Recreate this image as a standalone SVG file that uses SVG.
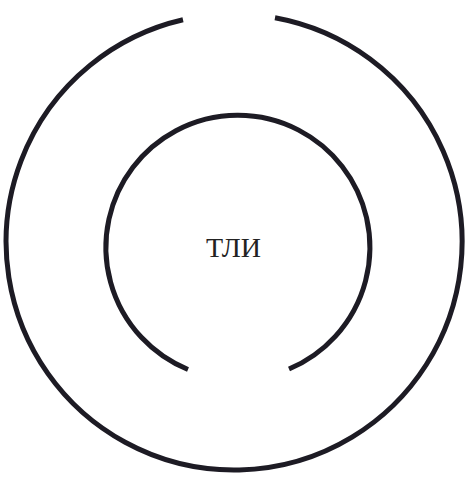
<svg xmlns="http://www.w3.org/2000/svg" width="467" height="478" viewBox="0 0 467 478">
<style>
.ring{fill:none;stroke:#1d1b24;stroke-width:5;stroke-linecap:butt}
.lbl{font-family:"Liberation Serif","Times New Roman",serif;font-size:28px;fill:#222;text-anchor:middle}
</style>
<rect width="467" height="478" fill="#fff"/>
<g id="outer-ring">
<path class="ring" d="M275,17.7 A228,228 0 1 1 183,19.8"/>
</g>
<g id="inner-ring">
<path class="ring" d="M188,369.5 A132,132 0 1 1 289,369"/>
</g>
<g id="label">
<text class="lbl" x="233.5" y="257">ТЛИ</text>
</g>
</svg>
